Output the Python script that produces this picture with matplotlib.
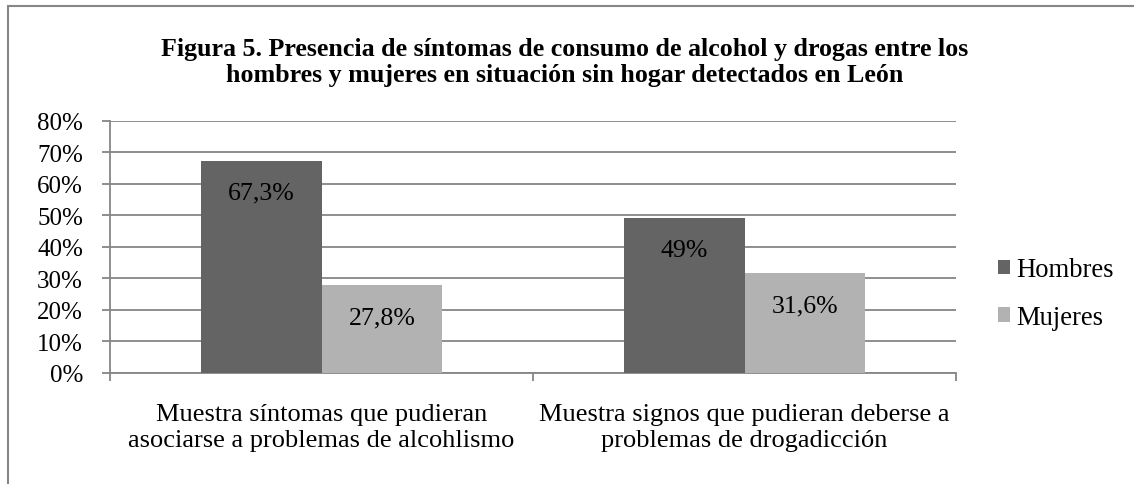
import matplotlib
matplotlib.use("Agg")
import matplotlib.pyplot as plt
import numpy as np
from matplotlib.patches import Rectangle

categories = ["Muestra síntomas que pudieran\nasociarse a problemas de alcohlismo",
              "Muestra signos que pudieran deberse a\nproblemas de drogadicción"]
series_names = ["Hombres", "Mujeres"]
hombres = [67.3, 49.0]
mujeres = [27.8, 31.6]
value_labels_h = ["67,3%", "49%"]
value_labels_m = ["27,8%", "31,6%"]
yticks = [0, 10, 20, 30, 40, 50, 60, 70, 80]
title = ("Figura 5. Presencia de síntomas de consumo de alcohol y drogas entre los\n"
         "hombres y mujeres en situación sin hogar detectados en León")

plt.rcParams['font.family'] = ['Liberation Serif', 'DejaVu Serif']

W, H = 1134, 485
fig = plt.figure(figsize=(W / 100, H / 100), dpi=100)
fig.patch.set_facecolor('white')

# outer chart border (top and left visible)
fig.add_artist(Rectangle((8 / W, -0.1), 1.2, (H - 7) / H + 0.1, transform=fig.transFigure,
                         fill=False, edgecolor='#868686', linewidth=1.5))

ax = fig.add_axes([110 / W, 1 - 374 / H, (956 - 110) / W, (374 - 121.7) / H])

grid_c = '#868686'
colors = ['#646464', '#b2b2b2']
bw = 0.286
x = np.arange(len(categories))
bh = ax.bar(x - bw / 2, hombres, bw, color=colors[0], label=series_names[0], zorder=3)
bm = ax.bar(x + bw / 2, mujeres, bw, color=colors[1], label=series_names[1], zorder=3)

for rects, labs in ((bh, value_labels_h), (bm, value_labels_m)):
    for r, lab in zip(rects, labs):
        ax.annotate(lab, (r.get_x() + r.get_width() / 2, r.get_height()),
                    xytext=(0, -23), textcoords='offset points',
                    ha='center', va='center', fontsize=18.6, color='black', zorder=4)

ax.set_xlim(-0.5, 1.5)
ax.set_ylim(0, 80)
ax.set_yticks(yticks)
ax.set_yticklabels([f"{t}%" for t in yticks], fontsize=18)
ax.yaxis.grid(True, color=grid_c, linewidth=1.3, zorder=0)
ax.set_axisbelow(True)

ax.set_xticks([-0.5, 0.5, 1.5])
ax.set_xticklabels(['', '', ''])
ax.set_xticks(x, minor=True)
ax.set_xticklabels(categories, minor=True, fontsize=19, linespacing=1.22)
ax.tick_params(axis='x', which='minor', length=0, pad=21.5)
ax.tick_params(axis='x', which='major', length=6, width=1.3, color=grid_c, direction='out')
ax.tick_params(axis='y', length=6, width=1.3, color=grid_c, pad=13.5)

for s in ['top', 'right']:
    ax.spines[s].set_visible(False)
for s in ['left', 'bottom']:
    ax.spines[s].set_color(grid_c)
    ax.spines[s].set_linewidth(1.3)

fig.text(565 / W, 1 - 62.5 / H, title, ha='center', va='center', fontsize=18.7,
         fontweight='bold', linespacing=1.2)

leg = fig.legend(handles=[bh, bm], labels=series_names, loc='center left',
                 bbox_to_anchor=(974 / W, 1 - 294.5 / H), frameon=False, fontsize=19.2,
                 handlelength=0.45, handleheight=0.45, handletextpad=0.25,
                 labelspacing=0.85)

fig.savefig('out.png', dpi=100, facecolor='white')
